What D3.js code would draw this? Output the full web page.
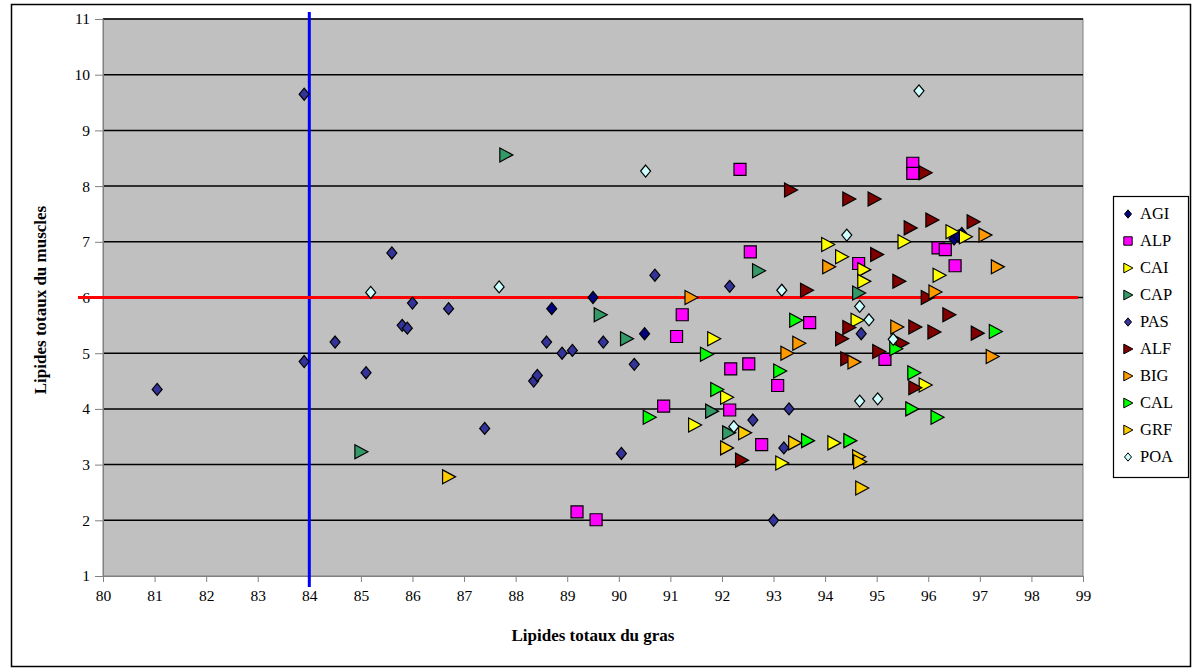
<!DOCTYPE html>
<html>
<head>
<meta charset="utf-8">
<script src="https://cdn.jsdelivr.net/npm/d3@7"></script>
<style>
    body { margin: 0; background: #fff; }
    svg { display: block; }
    .tick text { font-family: "Liberation Serif", "Times New Roman", serif; font-size: 15.5px; fill: #000; }
    .axis-label { font-family: "Liberation Serif", "Times New Roman", serif; font-size: 17px; font-weight: bold; }
    .legend text { font-family: "Liberation Serif", "Times New Roman", serif; font-size: 16.5px; }
</style>
</head>
<body>
<svg width="1203" height="669"></svg>
<script>
const width = 1203;
const height = 669;

const margin = { top: 19, right: 120, bottom: 93, left: 103 };

// tick labels
const xTickValues = [80, 81, 82, 83, 84, 85, 86, 87, 88, 89, 90, 91, 92, 93, 94, 95, 96, 97, 98, 99];
const yTickValues = [1, 2, 3, 4, 5, 6, 7, 8, 9, 10, 11];

// reference lines
const xThreshold = 84;
const yThreshold = 6;

// series, [gras, muscles]
const agi = [[88.7, 5.8], [90.5, 5.35], [89.5, 6.0], [96.5, 7.05], [96.65, 7.15], [96.58, 7.1]];
const alp = [[95.7, 8.41], [95.7, 8.23], [92.35, 8.3], [92.55, 6.82], [93.7, 5.55], [94.65, 6.61],
    [96.19, 6.89], [96.33, 6.86], [96.52, 6.57], [95.16, 4.89], [91.23, 5.69], [91.12, 5.3],
    [92.17, 4.72], [92.52, 4.81], [93.08, 4.42], [92.15, 3.98], [92.77, 3.36], [90.87, 4.05],
    [89.19, 2.15], [89.56, 2.01]];
const cai = [[91.47, 3.71], [91.84, 5.26], [94.05, 6.95], [94.32, 6.73], [94.75, 6.5], [94.75, 6.29],
    [95.53, 7.0], [94.62, 5.59], [92.09, 4.21], [94.17, 3.39], [93.16, 3.03], [96.46, 7.18],
    [96.72, 7.09], [96.21, 6.4], [95.94, 4.43]];
const cap = [[85.0, 3.23], [87.81, 8.56], [89.64, 5.69], [90.15, 5.26], [92.71, 6.48], [91.8, 3.96],
    [92.13, 3.57], [94.65, 6.08]];
const pas = [[81.05, 4.35], [83.9, 9.65], [83.9, 4.85], [84.5, 5.2], [85.1, 4.65], [85.6, 6.8],
    [85.8, 5.5], [85.9, 5.45], [86.0, 5.9], [86.7, 5.8], [87.4, 3.65], [88.35, 4.5], [88.42, 4.6],
    [88.6, 5.2], [88.9, 5.0], [89.1, 5.05], [89.7, 5.2], [90.05, 3.2], [90.3, 4.8], [90.7, 6.4],
    [92.15, 6.2], [92.6, 3.8], [93.0, 2.0], [93.2, 3.3], [93.3, 4.0], [94.7, 5.35]];
const alf = [[93.33, 7.93], [94.46, 7.77], [94.95, 7.77], [93.64, 6.13], [95.0, 6.77], [95.43, 6.29],
    [94.46, 5.46], [94.32, 5.26], [94.42, 4.9], [95.04, 5.03], [92.38, 3.08], [95.94, 8.24],
    [95.65, 7.25], [96.07, 7.39], [96.87, 7.36], [95.98, 6.0], [96.4, 5.69], [95.74, 5.47],
    [96.11, 5.38], [96.95, 5.36], [95.49, 5.18], [95.74, 4.38]];
const big = [[94.07, 6.55], [95.39, 5.47], [93.49, 5.18], [93.26, 5.0], [94.56, 4.84], [97.1, 7.12],
    [97.34, 6.55], [96.13, 6.1], [97.24, 4.94], [91.4, 6.0]];
const cal = [[90.59, 3.85], [91.7, 4.98], [91.9, 4.35], [93.43, 5.59], [93.12, 4.68], [93.66, 3.43],
    [94.48, 3.43], [97.3, 5.39], [95.37, 5.08], [95.72, 4.65], [95.68, 4.0], [96.17, 3.85]];
const grf = [[86.7, 2.78], [92.09, 3.3], [92.44, 3.57], [93.41, 3.39], [94.65, 3.14], [94.67, 3.05],
    [94.71, 2.58]];
const poa = [[95.82, 9.71], [90.52, 8.27], [87.68, 6.19], [85.19, 6.09], [94.42, 7.12], [93.16, 6.13],
    [94.67, 5.84], [94.85, 5.6], [92.23, 3.68], [94.67, 4.14], [95.02, 4.18], [95.32, 5.25]];

const seriesNames = ["AGI", "ALP", "CAI", "CAP", "PAS", "ALF", "BIG", "CAL", "GRF", "POA"];
const seriesData = [agi, alp, cai, cap, pas, alf, big, cal, grf, poa];
const seriesColors = ["#000080", "#FF00FF", "#FFFF00", "#339966", "#333399", "#800000", "#FF9900", "#00FF00", "#FFCC00", "#CCFFFF"];
const seriesShapes = ["diamond", "square", "triangle", "triangle", "diamond", "triangle", "triangle", "triangle", "triangle", "diamond"];

// marker paths
function shapePath(shape, s) {
    if (shape === "diamond") return `M0,${-6 * s}L${5 * s},0L0,${6 * s}L${-5 * s},0Z`;
    if (shape === "square") return `M${-6 * s},${-6 * s}h${12 * s}v${12 * s}h${-12 * s}Z`;
    return `M${-6 * s},${-7 * s}L${7 * s},0L${-6 * s},${7 * s}Z`;
}

const svg = d3.select("svg");

// chart border
svg.append("rect")
    .attr("x", 11.5).attr("y", 4.5)
    .attr("width", 1179).attr("height", 662)
    .attr("fill", "#fff")
    .attr("stroke", "#000")
    .attr("stroke-width", 1.5);

const xScale = d3.scaleLinear()
    .domain([80, 99])
    .range([margin.left, width - margin.right]);

const yScale = d3.scaleLinear()
    .domain([1, 11])
    .range([height - margin.bottom, margin.top]);

// plot area
svg.append("rect")
    .attr("x", xScale(80)).attr("y", yScale(11))
    .attr("width", xScale(99) - xScale(80))
    .attr("height", yScale(1) - yScale(11))
    .attr("fill", "#C0C0C0")
    .attr("stroke", "#808080");

// gridlines
svg.append("g")
    .selectAll("line")
    .data(yTickValues.filter(d => d > 1))
    .join("line")
    .attr("x1", xScale(80)).attr("x2", xScale(99))
    .attr("y1", d => yScale(d)).attr("y2", d => yScale(d))
    .attr("stroke", "#000")
    .attr("stroke-width", 1.5);

// x axis
const xAxis = d3.axisBottom(xScale)
    .tickValues(xTickValues)
    .tickSize(6)
    .tickPadding(8)
    .tickFormat(d3.format("d"));

svg.append("g")
    .attr("transform", `translate(0, ${yScale(1)})`)
    .call(xAxis)
    .call(g => g.select(".domain").attr("stroke", "#808080"))
    .call(g => g.selectAll(".tick line").attr("stroke", "#808080"));

// y axis
const yAxis = d3.axisLeft(yScale)
    .tickValues(yTickValues)
    .tickSize(8)
    .tickPadding(5)
    .tickFormat(d3.format("d"));

svg.append("g")
    .attr("transform", `translate(${xScale(80)}, 0)`)
    .call(yAxis)
    .call(g => g.select(".domain").attr("stroke", "#808080"))
    .call(g => g.selectAll(".tick line").attr("stroke", "#808080"));

// threshold lines
svg.append("line")
    .attr("x1", xScale(xThreshold)).attr("x2", xScale(xThreshold))
    .attr("y1", yScale(11) - 7).attr("y2", yScale(1) + 11)
    .attr("stroke", "#0000FF")
    .attr("stroke-width", 3);

svg.append("line")
    .attr("x1", xScale(80) - 25).attr("x2", xScale(99) - 5)
    .attr("y1", yScale(yThreshold)).attr("y2", yScale(yThreshold))
    .attr("stroke", "#FF0000")
    .attr("stroke-width", 3);

// points
seriesData.forEach((data, i) => {
    svg.append("g")
        .selectAll("path")
        .data(data)
        .join("path")
        .attr("transform", d => `translate(${xScale(d[0])},${yScale(d[1])})`)
        .attr("d", shapePath(seriesShapes[i], 1))
        .attr("fill", seriesColors[i])
        .attr("stroke", "#000")
        .attr("stroke-width", 1.2);
});

// axis titles
svg.append("text")
    .attr("x", (xScale(80) + xScale(99)) / 2)
    .attr("y", 641)
    .attr("text-anchor", "middle")
    .attr("class", "axis-label")
    .text("Lipides totaux du gras");

svg.append("text")
    .attr("transform", "rotate(-90)")
    .attr("x", -300)
    .attr("y", 46)
    .attr("text-anchor", "middle")
    .attr("class", "axis-label")
    .text("Lipides totaux du muscles");

// legend
const legend = svg.append("g").attr("class", "legend");

legend.append("rect")
    .attr("x", 1113.5).attr("y", 196.5)
    .attr("width", 75).attr("height", 281)
    .attr("fill", "#fff")
    .attr("stroke", "#000")
    .attr("stroke-width", 1.2);

seriesNames.forEach((name, i) => {
    const y = 214 + i * 27;
    legend.append("path")
        .attr("transform", `translate(1128,${y})`)
        .attr("d", shapePath(seriesShapes[i], 0.7))
        .attr("fill", seriesColors[i])
        .attr("stroke", "#000")
        .attr("stroke-width", 1);
    legend.append("text")
        .attr("x", 1140)
        .attr("y", y + 5)
        .text(name);
});
</script>
</body>
</html>
